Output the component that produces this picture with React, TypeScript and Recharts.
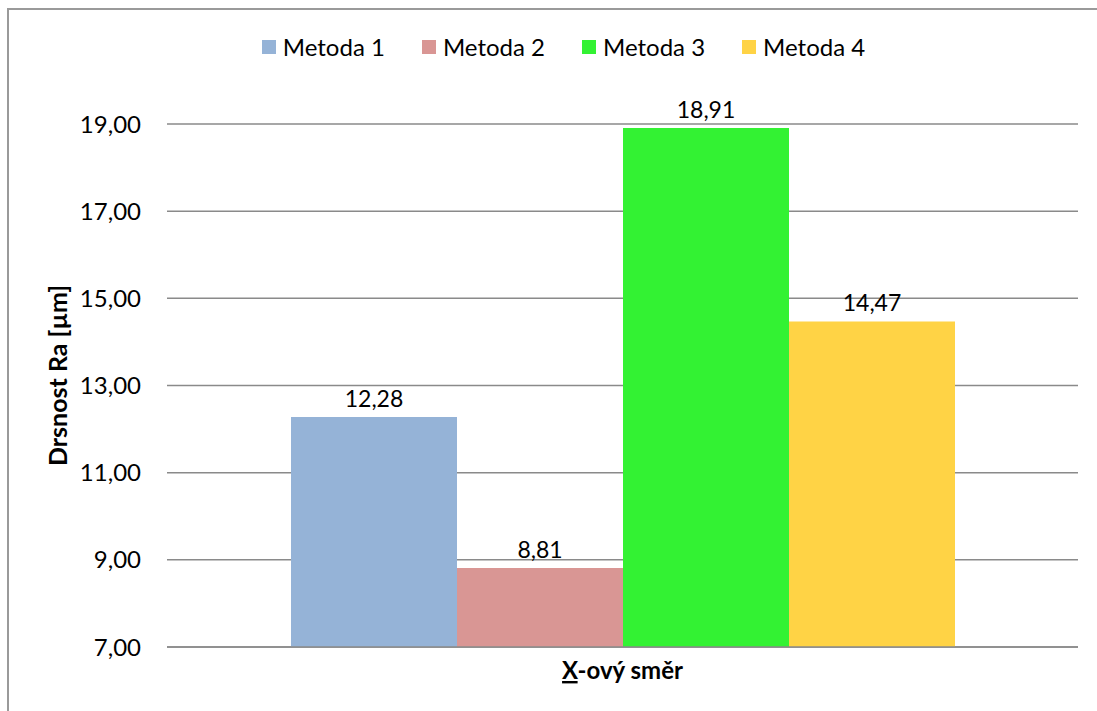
import React from 'react';
import { BarChart, Bar, XAxis, YAxis, CartesianGrid, Legend, LabelList } from 'recharts';

// Drsnost Ra podle metody, směr X
const categories = ['X-ový směr'];
const seriesNames = ['Metoda 1', 'Metoda 2', 'Metoda 3', 'Metoda 4'];
const seriesKeys = ['m1', 'm2', 'm3', 'm4'];
const seriesValues = [12.28, 8.81, 18.91, 14.47];
const seriesColors = ['#95B3D7', '#D99694', '#33F233', '#FFD345'];
const yTicks = [7, 9, 11, 13, 15, 17, 19];

const FONT = 'Lato, "Open Sans", sans-serif';

const data = categories.map((name) => {
  const row: Record<string, string | number> = { name };
  seriesKeys.forEach((k, i) => {
    row[k] = seriesValues[i];
  });
  return row;
});

const fmt = (v: number) => v.toFixed(2).replace('.', ',');

// první písmeno kategorie je podtržené
function CategoryTick({ x, y, payload }: any) {
  const label: string = payload.value;
  return (
    <text x={x} y={y + 24} textAnchor="middle" fontFamily={FONT} fontSize={24} fontWeight={700} fill="#000">
      <tspan style={{ textDecoration: 'underline' }}>{label.slice(0, 1)}</tspan>
      <tspan>{label.slice(1)}</tspan>
    </text>
  );
}

function YTitle({ viewBox }: any) {
  const bx = 67;
  const cy = viewBox.y + viewBox.height / 2 - 10;
  return (
    <text
      x={bx}
      y={cy}
      transform={`rotate(-90, ${bx}, ${cy})`}
      textAnchor="middle"
      fontFamily={FONT}
      fontSize={25}
      fontWeight={700}
      fill="#000"
    >
      Drsnost Ra [µm]
    </text>
  );
}

function LegendBox({ payload }: any) {
  return (
    <div
      style={{
        display: 'flex',
        justifyContent: 'center',
        alignItems: 'center',
        gap: 37,
        height: 30,
        paddingLeft: 30,
        fontFamily: FONT,
        fontSize: 24,
      }}
    >
      {(payload || []).map((p: any) => (
        <div key={p.value} style={{ display: 'flex', alignItems: 'center' }}>
          <span style={{ display: 'inline-block', width: 14, height: 14, background: p.color, marginRight: 7 }} />
          <span style={{ color: '#000', lineHeight: '30px' }}>{p.value}</span>
        </div>
      ))}
    </div>
  );
}

export default function App() {
  return (
    <div style={{ position: 'absolute', left: 0, top: 0, width: 1097, height: 711, background: '#fff' }}>
      {/* rámeček grafu: jen levá a horní hrana */}
      <div style={{ position: 'absolute', left: 7, top: 8, width: 2, height: 703, background: '#9a9a9a' }} />
      <div style={{ position: 'absolute', left: 7, top: 8, width: 1090, height: 2, background: '#9a9a9a' }} />
      <div style={{ position: 'absolute', left: 0, top: 0 }}>
        <BarChart
          width={1097}
          height={711}
          data={data}
          margin={{ top: 94, right: 19, bottom: 0, left: 17 }}
          barCategoryGap={124}
          barGap={0}
        >
          <CartesianGrid vertical={false} stroke="#8a8a8a" strokeWidth={1.5} />
          <XAxis
            dataKey="name"
            axisLine={{ stroke: '#8a8a8a', strokeWidth: 1.5 }}
            tickLine={false}
            tick={<CategoryTick />}
            height={64}
          />
          <YAxis
            width={150}
            domain={[7, 19]}
            ticks={yTicks}
            allowDataOverflow
            axisLine={false}
            tickLine={false}
            tickSize={0}
            tickMargin={26}
            tickFormatter={fmt}
            tick={{ fill: '#000', fontFamily: FONT, fontSize: 24 }}
            label={<YTitle />}
          />
          <Legend
            verticalAlign="top"
            content={<LegendBox />}
            wrapperStyle={{ top: 32, left: 0, width: 1097, height: 30 }}
          />
          {seriesKeys.map((k, i) => (
            <Bar key={k} dataKey={k} name={seriesNames[i]} fill={seriesColors[i]} isAnimationActive={false}>
              <LabelList
                dataKey={k}
                position="top"
                offset={10}
                formatter={(v: any) => fmt(Number(v))}
                style={{ fill: '#000', fontFamily: FONT, fontSize: 23 }}
              />
            </Bar>
          ))}
        </BarChart>
      </div>
    </div>
  );
}
